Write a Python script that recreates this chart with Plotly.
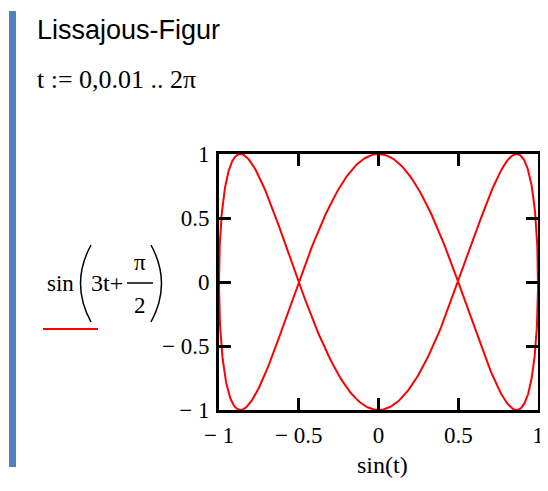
import numpy as np
import plotly.graph_objects as go

# Data as defined in the reference worksheet: t := 0, 0.01 .. 2π ; plot sin(t) vs sin(3t + π/2)
t_start = 0.0
t_step = 0.01
t_end = 2 * np.pi
t = np.arange(t_start, t_end + 1e-9, t_step)
x_vals = np.sin(t)
y_vals = np.sin(3 * t + np.pi / 2)

tick_vals = [-1, -0.5, 0, 0.5, 1]
tick_text = ["\u2212 1", "\u2212 0.5", "0", "0.5", "1"]

W, H = 548, 491
OFF = 8  # page body margin in the browser
# plot frame in reference (screen) pixels
L, R, T, B = 219, 538, 154, 410

def px(x):
    return (x - L) / (R - L)

def py(y):
    return (B - y) / (B - T)

fig = go.Figure()
fig.add_trace(go.Scatter(x=x_vals, y=y_vals, mode="lines",
                         line=dict(color="#ff0000", width=2), hoverinfo="skip"))

serif = "Liberation Serif, Times New Roman, serif"
sans = "Liberation Sans, Arial, sans-serif"

axis_common = dict(range=[-1, 1], tickvals=tick_vals, ticktext=tick_text,
                   showgrid=False, zeroline=False, showline=True, linecolor="black",
                   linewidth=3, mirror="ticks", ticks="inside", ticklen=12, tickwidth=3,
                   tickcolor="black", tickfont=dict(family=serif, size=23, color="black"))

fig.update_layout(
    width=W, height=H,
    margin=dict(l=L - OFF, r=W - (R - OFF), t=T - OFF, b=H - (B - OFF)),
    paper_bgcolor="white", plot_bgcolor="white",
    showlegend=False,
    xaxis=dict(**axis_common, ticklabelstandoff=2),
    yaxis=dict(**axis_common, ticklabelstandoff=2),
)

annos = []
def txt(text, x, y, size, family=serif, xanchor="left", yanchor="middle"):
    annos.append(dict(text=text, x=px(x), y=py(y), xref="paper", yref="paper",
                      showarrow=False, xanchor=xanchor, yanchor=yanchor,
                      font=dict(family=family, size=size, color="black")))

txt("Lissajous-Figur", 35, 30, 27, family=sans)
txt("t := 0,0.01 .. 2\u03c0", 35, 79, 26)
txt("sin(t)", 382, 465, 24, xanchor="center")
# y-axis label: sin(3t + π/2)
txt("sin", 45, 283, 23)
txt("3t+", 89, 283, 24)
txt("\u03c0", 140, 262, 23, xanchor="center")
txt("2", 140, 305, 23, xanchor="center")
fig.update_layout(annotations=annos)

def path_px(points_cmd):
    out = []
    for tok in points_cmd:
        if isinstance(tok, str):
            out.append(tok)
        else:
            out.append(f"{px(tok[0]):.5f},{py(tok[1]):.5f}")
    return " ".join(out)

shapes = [
    # blue side bar
    dict(type="rect", xref="paper", yref="paper", x0=px(9), x1=px(16), y0=py(467), y1=py(11),
         fillcolor="#4f81bd", line=dict(width=0), layer="below"),
    # fraction bar
    dict(type="line", xref="paper", yref="paper", x0=px(127), x1=px(153), y0=py(283), y1=py(283),
         line=dict(color="black", width=1.5)),
    # parentheses
    dict(type="path", xref="paper", yref="paper",
         path=path_px(["M", (91, 245), "Q", (70, 283.5), (91, 322)]),
         line=dict(color="black", width=1.5)),
    dict(type="path", xref="paper", yref="paper",
         path=path_px(["M", (151, 245), "Q", (172, 283.5), (151, 322)]),
         line=dict(color="black", width=1.5)),
    # red legend underline
    dict(type="line", xref="paper", yref="paper", x0=px(43), x1=px(98), y0=py(329), y1=py(329),
         line=dict(color="#ff0000", width=2)),
]
fig.update_layout(shapes=shapes)

fig.write_html("out.html")
